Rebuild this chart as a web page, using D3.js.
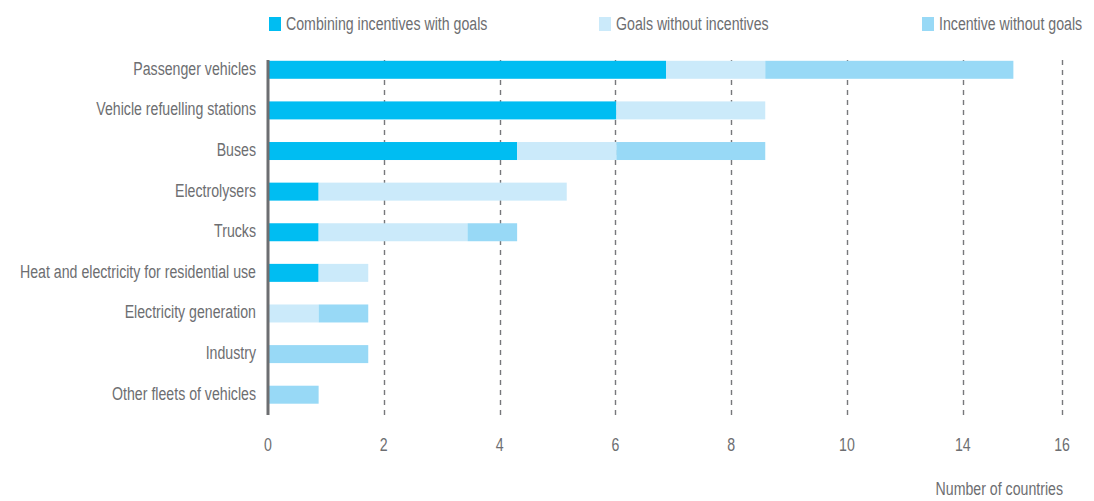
<!DOCTYPE html>
<html>
<head>
<meta charset="utf-8">
<script src="https://cdn.jsdelivr.net/npm/d3@7"></script>
<style>
  body { margin: 0; background: #fff; }
  svg text { font-family: "Liberation Sans", Arial, sans-serif; fill: #6d6e71; font-size: 19px; }
</style>
</head>
<body>
<svg id="chart"></svg>
<script>
// categories, top to bottom
const categories = [
  "Passenger vehicles",
  "Vehicle refuelling stations",
  "Buses",
  "Electrolysers",
  "Trucks",
  "Heat and electricity for residential use",
  "Electricity generation",
  "Industry",
  "Other fleets of vehicles"
];

const seriesNames = ["Combining incentives with goals", "Goals without incentives", "Incentive without goals"];
const combining = [8, 7, 5, 1, 1, 1, 0, 0, 0];
const goalsOnly = [2, 3, 2, 5, 3, 1, 1, 0, 0];
const incentiveOnly = [5, 0, 3, 0, 1, 0, 1, 2, 1];
const colors = ["#00bdf2", "#cbeafa", "#98d9f6"];

// axis ticks as printed on the original (labels do not follow the spacing)
const tickValues = [0, 14 / 6, 28 / 6, 7, 56 / 6, 70 / 6, 14, 16];
const tickLabels = ["0", "2", "4", "6", "8", "10", "14", "16"];

const W = 1094, H = 501;
const SX = 0.745; // squeeze text horizontally to look like a condensed face

const svg = d3.select("#chart").attr("width", W).attr("height", H);

const x = d3.scaleLinear().domain([0, 16]).range([268, 1062]);
const y = d3.scaleBand().domain(categories).range([49.5, 415]).paddingInner(0.557).paddingOuter(0.278);

const rows = categories.map((c, i) => ({ cat: c, vals: [combining[i], goalsOnly[i], incentiveOnly[i]] }));
const stacked = d3.stack().keys([0, 1, 2]).value((d, k) => d.vals[k])(rows);

// gridlines
svg.append("g").selectAll("line")
  .data(tickValues.slice(1))
  .join("line")
  .attr("x1", d => Math.round(x(d)) + 0.5)
  .attr("x2", d => Math.round(x(d)) + 0.5)
  .attr("y1", 60)
  .attr("y2", 415)
  .attr("stroke", "#77787b")
  .attr("stroke-width", 1.4)
  .attr("stroke-dasharray", "5,5");

// bars
svg.append("g").selectAll("g")
  .data(stacked)
  .join("g")
  .attr("fill", (d, i) => colors[i])
  .selectAll("rect")
  .data(d => d)
  .join("rect")
  .attr("x", d => x(d[0]) + 1)
  .attr("y", d => y(d.data.cat))
  .attr("width", d => Math.max(0, x(d[1]) - x(d[0])))
  .attr("height", y.bandwidth());

// y axis line
svg.append("line")
  .attr("x1", 268).attr("x2", 268)
  .attr("y1", 60).attr("y2", 415)
  .attr("stroke", "#6d6e71")
  .attr("stroke-width", 3);

// category labels
svg.append("g").selectAll("text")
  .data(categories)
  .join("text")
  .attr("transform", d => `translate(256,${y(d) + y.bandwidth() / 2 + 5}) scale(${SX},1)`)
  .attr("text-anchor", "end")
  .text(d => d);

// x tick labels
svg.append("g").selectAll("text")
  .data(tickValues)
  .join("text")
  .attr("transform", d => `translate(${x(d)},451) scale(${SX},1)`)
  .attr("text-anchor", "middle")
  .text((d, i) => tickLabels[i]);

svg.append("text")
  .attr("transform", `translate(1063,495) scale(${SX},1)`)
  .attr("text-anchor", "end")
  .text("Number of countries");

// legend
const legendX = [269, 599, 922];
const legend = svg.append("g").selectAll("g")
  .data(seriesNames)
  .join("g")
  .attr("transform", (d, i) => `translate(${legendX[i]},0)`);
legend.append("rect")
  .attr("x", 0).attr("y", 17)
  .attr("width", 12).attr("height", 14)
  .attr("fill", (d, i) => colors[i]);
legend.append("text")
  .attr("transform", `translate(17,30) scale(${SX},1)`)
  .text(d => d);
</script>
</body>
</html>
